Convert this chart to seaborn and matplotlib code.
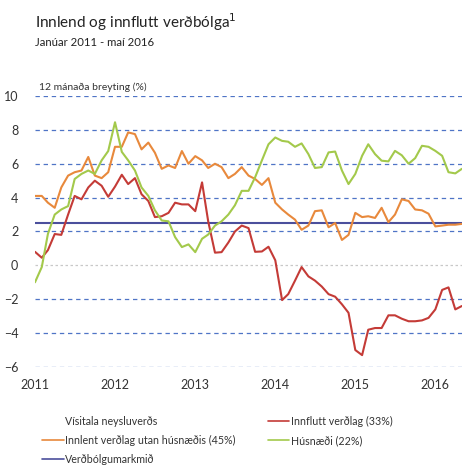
"""
Innlend og innflutt verðbólga, janúar 2011 - maí 2016
"""

import numpy as np
import pandas as pd
import matplotlib
matplotlib.use("Agg")
import matplotlib.pyplot as plt
import matplotlib.dates as mdates
from matplotlib.lines import Line2D
import seaborn as sns

# 12 mánaða breyting (%), mánaðarlega jan 2011 - maí 2016
months = pd.date_range("2011-01-01", "2016-05-01", freq="MS")

innflutt = [0.8, 0.45, 0.9, 1.85, 1.8, 3.0, 4.1, 3.9, 4.6, 5.0, 4.7, 4.05,
            4.65, 5.35, 4.8, 5.15, 4.2, 3.8, 2.85, 2.9, 3.1, 3.7, 3.6, 3.6,
            3.2, 4.9, 2.6, 0.75, 0.78, 1.35, 2.0, 2.35, 2.2, 0.8, 0.82, 1.1,
            0.3, -2.05, -1.7, -0.9, -0.1, -0.65, -0.9, -1.25, -1.7, -1.85, -2.3, -2.8,
            -5.0, -5.3, -3.8, -3.7, -3.7, -2.95, -2.95, -3.15, -3.3, -3.3, -3.25, -3.1,
            -2.6, -1.45, -1.3, -2.6, -2.4]

innlent = [4.1, 4.1, 3.7, 3.4, 4.6, 5.3, 5.5, 5.6, 6.4, 5.3, 5.15, 5.5,
           7.0, 7.0, 7.85, 7.75, 6.85, 7.25, 6.65, 5.7, 5.9, 5.75, 6.75, 6.0,
           6.45, 6.2, 5.75, 6.0, 5.8, 5.15, 5.4, 5.8, 5.3, 5.1, 4.75, 5.15,
           3.7, 3.3, 3.0, 2.7, 2.1, 2.35, 3.2, 3.25, 2.25, 2.5, 1.5, 1.8,
           3.1, 2.85, 2.9, 2.8, 3.4, 2.55, 3.0, 3.9, 3.8, 3.3, 3.25, 3.05,
           2.3, 2.35, 2.4, 2.4, 2.45]

husnaedi = [-1.0, -0.1, 1.86, 3.0, 3.3, 3.5, 5.1, 5.4, 5.6, 5.4, 6.2, 6.75,
            8.45, 6.7, 6.2, 5.6, 4.6, 4.1, 3.25, 2.65, 2.6, 1.67, 1.08, 1.24,
            0.78, 1.57, 1.82, 2.35, 2.6, 3.0, 3.55, 4.4, 4.4, 5.2, 6.2, 7.15,
            7.55, 7.35, 7.3, 7.0, 7.2, 6.57, 5.75, 5.8, 6.67, 6.72, 5.6, 4.8,
            5.4, 6.47, 7.15, 6.57, 6.18, 6.14, 6.76, 6.5, 6.0, 6.33, 7.06, 7.0,
            6.76, 6.47, 5.5, 5.43, 5.7]

markmid = 2.5

series_names = ["Innflutt verðlag (33%)",
                "Innlent verðlag utan húsnæðis (45%)",
                "Húsnæði (22%)"]
colors = ["#c43b37", "#e8893c", "#a3c94b"]
target_color = "#4b4f9c"
grid_color = "#4f74c6"

yticks = [-6, -4, -2, 0, 2, 4, 6, 8, 10]
year_ticks = pd.to_datetime(["2011-01-01", "2012-01-01", "2013-01-01",
                             "2014-01-01", "2015-01-01", "2016-01-01"])

df = pd.DataFrame({
    "month": np.tile(months, 3),
    "value": innflutt + innlent + husnaedi,
    "series": np.repeat(series_names, len(months)),
})

sns.set_style("white")
plt.rcParams["font.family"] = ["Lato", "DejaVu Sans"]
text_color = "#333333"

fig = plt.figure(figsize=(4.64, 4.75), dpi=100)
ax = fig.add_axes([0.0754, 0.2274, 0.920, 0.5705])

# gridlines
for y in yticks:
    if y == 0:
        ax.axhline(y, color="#c8c8c8", lw=0.9, ls=(0, (2, 2)), zorder=1)
    else:
        ax.axhline(y, color=grid_color, lw=0.9, ls=(0, (3.5, 3)), zorder=1)

ax.axhline(markmid, color=target_color, lw=1.5, zorder=2)

sns.lineplot(data=df, x="month", y="value", hue="series",
             hue_order=series_names, palette=colors, lw=1.5,
             legend=False, ax=ax, zorder=3)

ax.set_xlim(months[0], months[-1])
ax.set_ylim(-6, 10)
ax.set_yticks(yticks)
ax.set_xticks(year_ticks)
ax.xaxis.set_major_formatter(mdates.DateFormatter("%Y"))
ax.tick_params(axis="both", length=0, labelsize=9, colors=text_color)
ax.tick_params(axis="x", pad=9)
ax.tick_params(axis="y", pad=12)
ax.set_xlabel("")
ax.set_ylabel("")
for s in ax.spines.values():
    s.set_visible(False)

fig.text(0.0754, 0.953, "Innlend og innflutt verðbólga$^{1}$", fontsize=11,
         color="#222222", ha="left", va="center")
fig.text(0.0754, 0.911, "Janúar 2011 - maí 2016", fontsize=8.2,
         color="#222222", ha="left", va="center")
fig.text(0.085, 0.817, "12 mánaða breyting (%)", fontsize=7.5,
         color=text_color, ha="left", va="center")

handles = [
    Line2D([], [], color="none", lw=1.2),
    Line2D([], [], color=colors[1], lw=1.2),
    Line2D([], [], color=target_color, lw=1.2),
    Line2D([], [], color=colors[0], lw=1.2),
    Line2D([], [], color=colors[2], lw=1.2),
]
labels = ["Vísitala neysluverðs", series_names[1], "Verðbólgumarkmið",
          series_names[0], series_names[2]]
fig.legend(handles, labels, ncol=2, loc="upper left",
           bbox_to_anchor=(0.082, 0.133), frameon=False, fontsize=7.7,
           handlelength=2.0, handletextpad=0.15, columnspacing=3.0,
           labelspacing=0.75, labelcolor=text_color, borderaxespad=0)

fig.savefig("out.png", dpi=100)
